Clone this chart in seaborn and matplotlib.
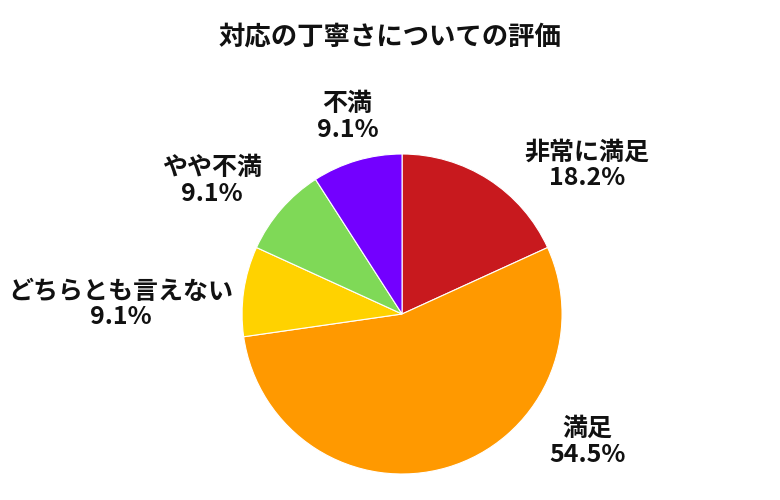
import matplotlib
matplotlib.use("Agg")

import matplotlib.pyplot as plt
import seaborn as sns

categories = ["非常に満足", "満足", "どちらとも言えない", "やや不満", "不満"]
counts = [2, 6, 1, 1, 1]
percent_labels = ["18.2%", "54.5%", "9.1%", "9.1%", "9.1%"]
colors = ["#C8191E", "#FF9900", "#FFD200", "#7FD957", "#7300FF"]

# label centres, in pie radius units
label_pos = [(1.155, 0.93), (1.16, -0.80), (-1.76, 0.06), (-1.19, 0.83), (-0.34, 1.23)]

sns.set_theme(style="white")
plt.rcParams["font.family"] = ["Noto Sans CJK JP", "DejaVu Sans"]

fig = plt.figure(figsize=(7.8, 5.0), dpi=100)
ax = fig.add_axes([0.3103, 0.052, 0.4103, 0.64])

ax.pie(
    counts,
    colors=colors,
    startangle=90,
    counterclock=False,
    wedgeprops={"edgecolor": "white", "linewidth": 0.8},
)
ax.set_xlim(-1, 1)
ax.set_ylim(-1, 1)
ax.set_aspect("equal")

for name, pct, (x, y) in zip(categories, percent_labels, label_pos):
    ax.text(x, y, name + "\n" + pct, ha="center", va="center",
            fontsize=18, fontweight="bold", color="#111111",
            linespacing=1.1, clip_on=False)

fig.text(0.5, 0.926, "対応の丁寧さについての評価", ha="center", va="center",
         fontsize=19, fontweight="bold", color="#111111")

fig.savefig("out.png", dpi=100)
